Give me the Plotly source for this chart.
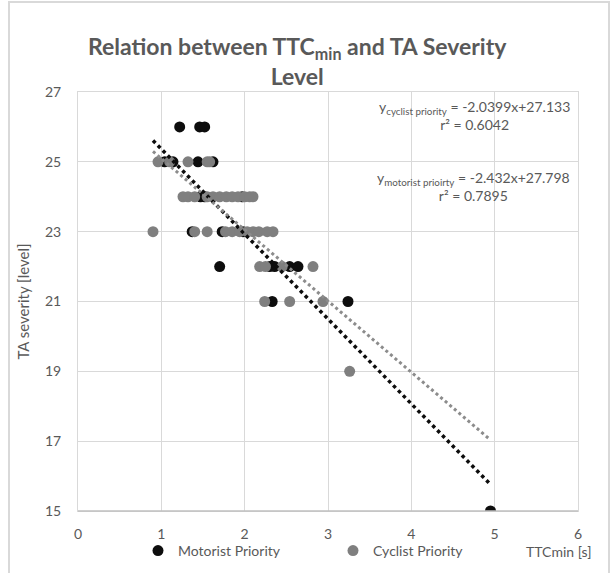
import plotly.graph_objects as go

# ---- data ----
motorist_x = [1.22, 1.46, 1.52,
              1.04, 1.14, 1.44, 1.62,
              1.47, 1.52, 1.97,
              1.37, 1.73, 1.98,
              1.70, 2.30, 2.36, 2.54, 2.64,
              2.33, 3.24,
              4.95]
motorist_y = [26, 26, 26,
              25, 25, 25, 25,
              24, 24, 24,
              23, 23, 23,
              22, 22, 22, 22, 22,
              21, 21,
              15]
cyclist_x = [0.96, 1.10, 1.32, 1.55, 1.58,
             1.26, 1.32, 1.40, 1.55, 1.62, 1.70, 1.78, 1.85, 1.92, 2.00, 2.06, 2.10,
             0.90, 1.40, 1.55, 1.77, 1.85, 1.94, 2.03, 2.10, 2.17, 2.27, 2.34,
             2.18, 2.25, 2.45, 2.82,
             2.24, 2.54, 2.94,
             3.26]
cyclist_y = [25, 25, 25, 25, 25,
             24, 24, 24, 24, 24, 24, 24, 24, 24, 24, 24, 24,
             23, 23, 23, 23, 23, 23, 23, 23, 23, 23, 23,
             22, 22, 22, 22,
             21, 21, 21,
             19]
# trendline coefficients (slope, intercept) and extent
motorist_fit = (-2.432, 27.798)
cyclist_fit = (-2.0399, 27.133)
trend_x = [0.9, 4.93]

x_ticks = [0, 1, 2, 3, 4, 5, 6]
y_ticks = [15, 17, 19, 21, 23, 25, 27]

BLACK = "#0d0d0d"
GRAY = "#7f7f7f"
TXT = "#595959"
FONT = "Lato"

fig = go.Figure()
fig.add_trace(go.Scatter(x=motorist_x, y=motorist_y, mode="markers",
                         name="Motorist Priority",
                         marker=dict(color=BLACK, size=11)))
fig.add_trace(go.Scatter(x=cyclist_x, y=cyclist_y, mode="markers",
                         name="Cyclist Priority",
                         marker=dict(color=GRAY, size=11)))
fig.add_trace(go.Scatter(x=trend_x, y=[motorist_fit[0] * v + motorist_fit[1] for v in trend_x],
                         mode="lines", showlegend=False,
                         line=dict(color=BLACK, width=3.5, dash="dot")))
fig.add_trace(go.Scatter(x=trend_x, y=[cyclist_fit[0] * v + cyclist_fit[1] for v in trend_x],
                         mode="lines", showlegend=False,
                         line=dict(color="#8c8c8c", width=3, dash="dot")))

L, R, T, B = 78, 35, 92, 62
W, H = 613, 573
pw, ph = W - L - R, H - T - B


def px(xp):
    return (xp - L) / pw


def py(yp):
    return (H - B - yp) / ph


annotations = [
    dict(text="<b>Relation between TTC<sub>min</sub> and TA Severity<br>Level</b>",
         xref="paper", yref="paper", x=px(297), y=py(61), xanchor="center", yanchor="middle",
         showarrow=False, font=dict(family=FONT, size=23, color=TXT)),
    dict(text="y<sub>cyclist priority</sub> = -2.0399x+27.133<br>r² = 0.6042",
         xref="paper", yref="paper", x=px(572), y=py(116), xanchor="right", yanchor="middle",
         showarrow=False, align="center", font=dict(family=FONT, size=14, color=TXT)),
    dict(text="y<sub>motorist prioirty</sub> = -2.432x+27.798<br>r² = 0.7895",
         xref="paper", yref="paper", x=px(572), y=py(186), xanchor="right", yanchor="middle",
         showarrow=False, align="center", font=dict(family=FONT, size=14, color=TXT)),
    dict(text="TTCmin [s]", xref="paper", yref="paper", x=px(558), y=py(551),
         xanchor="center", yanchor="middle", showarrow=False,
         font=dict(family=FONT, size=14, color=TXT)),
]

shapes = [
    dict(type="rect", xref="paper", yref="paper", x0=px(9), x1=px(609), y0=py(600), y1=py(2),
         line=dict(color="#d9d9d9", width=2), layer="below"),
    dict(type="line", xref="paper", yref="paper", x0=0, x1=1, y0=0, y1=0,
         line=dict(color="#bfbfbf", width=1.5)),
]

fig.update_layout(
    width=W, height=H,
    margin=dict(l=L, r=R, t=T, b=B, pad=0, autoexpand=False),
    paper_bgcolor="white", plot_bgcolor="white",
    font=dict(family=FONT, size=13, color=TXT),
    annotations=annotations, shapes=shapes,
    legend=dict(orientation="h", x=px(138), y=py(551), xanchor="left", yanchor="middle",
                font=dict(family=FONT, size=14, color=TXT), itemwidth=30,
                entrywidth=150, entrywidthmode="pixels",
                bgcolor="rgba(0,0,0,0)"),
    showlegend=True,
)
fig.update_xaxes(range=[0, 6], tickvals=x_ticks, showgrid=True, gridcolor="#d9d9d9",
                 gridwidth=1, zeroline=False, showline=True, linecolor="#d9d9d9", mirror=True,
                 ticks="", ticklabelstandoff=10, tickfont=dict(family=FONT, size=14, color=TXT))
fig.update_yaxes(range=[15, 27], tickvals=y_ticks, showgrid=True, gridcolor="#d9d9d9",
                 gridwidth=1, zeroline=False, showline=True, linecolor="#d9d9d9", mirror=True,
                 ticks="", ticklabelstandoff=13, tickfont=dict(family=FONT, size=14, color=TXT),
                 title=dict(text="TA severity [level]", standoff=11,
                            font=dict(family=FONT, size=15, color=TXT)))

fig.write_html("out.html")
